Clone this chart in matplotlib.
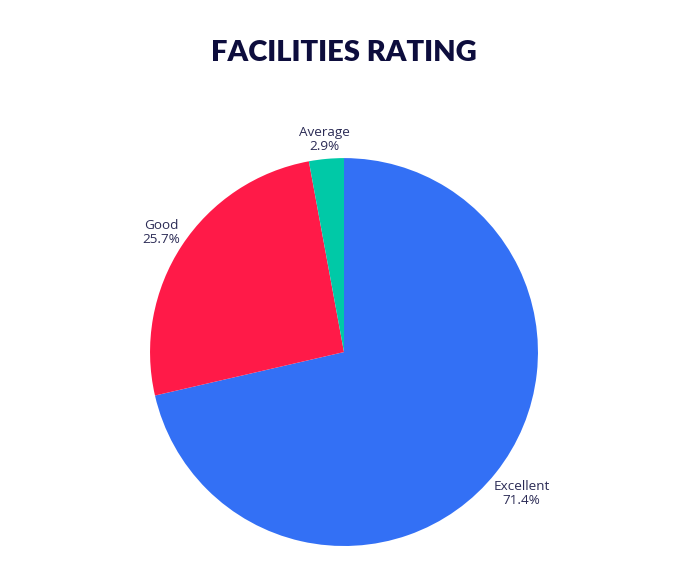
import numpy as np
import matplotlib
matplotlib.use('Agg')
import matplotlib.pyplot as plt

labels = ['Excellent', 'Good', 'Average']
shares = [71.4, 25.7, 2.9]
colors = ['#3370F5', '#FF1A48', '#00C9A7']
title = 'FACILITIES RATING'

text_color = '#2b2b55'
# how far out each label's centre sits (in pie radii)
label_r = [1.17, 1.125, 1.1]

fig = plt.figure(figsize=(6.88, 5.73), dpi=100)
ax = fig.add_axes([0.218, 0.0471, 0.564, 0.677])

wedges, _ = ax.pie(shares, colors=colors, startangle=90, counterclock=False,
                   radius=1, wedgeprops=dict(linewidth=0))
ax.set_xlim(-1, 1)
ax.set_ylim(-1, 1)
ax.set_aspect('equal')
ax.axis('off')

for w, lab, val, r in zip(wedges, labels, shares, label_r):
    mid = np.deg2rad((w.theta1 + w.theta2) / 2)
    x, y = np.cos(mid), np.sin(mid)
    ax.text(r * x, r * y, f'{lab}\n{val}%', ha='center', va='center',
            multialignment='center', fontsize=9.7, color=text_color,
            family='Open Sans', linespacing=1.1)

fig.text(0.5, 0.907, title, ha='center', va='center', fontsize=21,
         fontweight='heavy', family='Lato', color='#0d0d3d')

fig.savefig('out.png', dpi=100)
